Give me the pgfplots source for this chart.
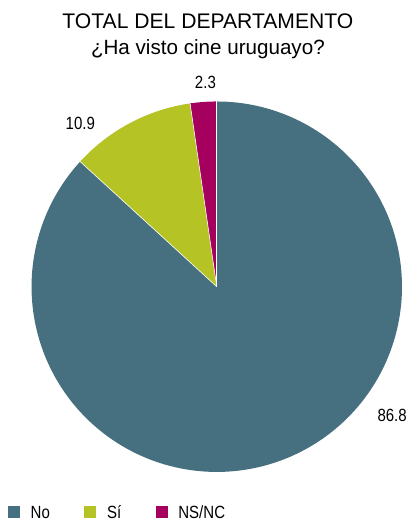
\documentclass[border=0pt]{standalone}
\usepackage{pgfplots}
\pgfplotsset{compat=1.18}
\usepackage{fontspec}
\setmainfont{Liberation Sans}
\newfontfamily\cond[FakeStretch=0.85]{Liberation Sans}
\definecolor{cNo}{HTML}{46707F}
\definecolor{cSi}{HTML}{B5C424}
\definecolor{cNS}{HTML}{A6005E}
% values (percent)
\def\vNo{86.8}
\def\vSi{10.9}
\def\vNS{2.3}
\begin{document}
\begin{tikzpicture}
\begin{axis}[
  x=1bp, y=1bp,
  xmin=0, xmax=414, ymin=0, ymax=522,
  hide axis, clip=false,
  scale only axis,
  legend columns=3,
  legend style={at={(axis cs:8,-8)}, anchor=south west, draw=none, fill=none,
    inner sep=0pt, font=\cond\fontsize{18}{18}\selectfont,
    /tikz/every even column/.append style={column sep=33bp},
    /tikz/every odd column/.append style={column sep=9bp}},
  legend image code/.code={\fill[#1] (0bp,-5bp) rectangle (12bp,7bp);},
]
\path[use as bounding box] (axis cs:0,0) rectangle (axis cs:414,522);
% No: from 90 clockwise
\addplot[fill=cNo, draw=none, domain=90:90-3.6*\vNo, samples=200, variable=\t]
  ({220+188*cos(\t)}, {231+188*sin(\t)}) -- (axis cs:220,231) -- cycle;
\addlegendentry{No}
\addplot[fill=cSi, draw=none, domain=90-3.6*\vNo:90-3.6*(\vNo+\vSi), samples=60, variable=\t]
  ({220+188*cos(\t)}, {231+188*sin(\t)}) -- (axis cs:220,231) -- cycle;
\addlegendentry{Sí}
\addplot[fill=cNS, draw=none, domain=90-3.6*(\vNo+\vSi):90-3.6*(\vNo+\vSi+\vNS), samples=20, variable=\t]
  ({220+188*cos(\t)}, {231+188*sin(\t)}) -- (axis cs:220,231) -- cycle;
\addlegendentry{NS/NC}
% separators
\addplot[white, line width=0.6pt, samples=2, domain=0:1, variable=\s, forget plot]
  ({220+188*\s*cos(90)}, {231+188*\s*sin(90)});
\addplot[white, line width=0.6pt, samples=2, domain=0:1, variable=\s, forget plot]
  ({220+188*\s*cos(90-3.6*\vNo)}, {231+188*\s*sin(90-3.6*\vNo)});
\addplot[white, line width=0.6pt, samples=2, domain=0:1, variable=\s, forget plot]
  ({220+188*\s*cos(90-3.6*(\vNo+\vSi))}, {231+188*\s*sin(90-3.6*(\vNo+\vSi))});
% value labels
\node[font=\cond\fontsize{18}{18}\selectfont] at (axis cs:398,100) {86.8};
\node[font=\cond\fontsize{18}{18}\selectfont] at (axis cs:81.5,397) {10.9};
\node[font=\cond\fontsize{18}{18}\selectfont] at (axis cs:208.5,438.5) {2.3};
% title
\node[font=\fontsize{21.5}{21.5}\selectfont, anchor=base] at (axis cs:211,493) {TOTAL DEL DEPARTAMENTO};
\node[font=\fontsize{21}{21}\selectfont, anchor=base] at (axis cs:211,467) {¿Ha visto cine uruguayo?};
\end{axis}
\end{tikzpicture}
\end{document}
